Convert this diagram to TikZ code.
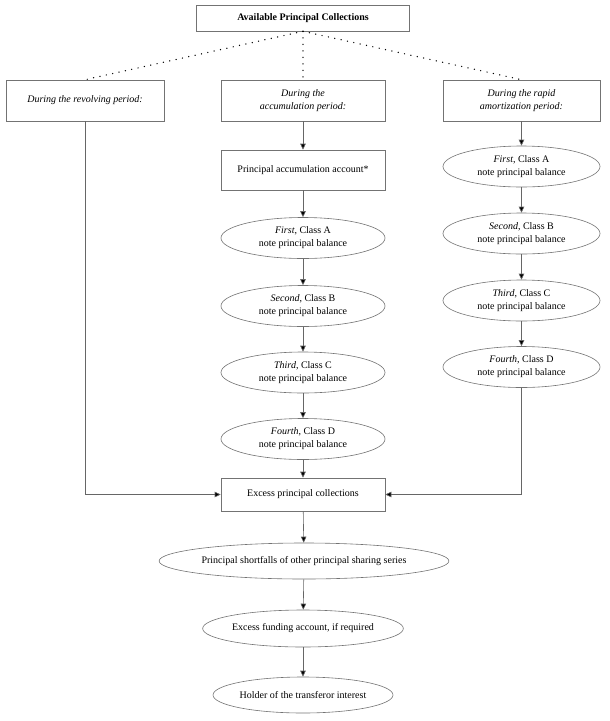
\documentclass[tikz,border=0pt]{standalone}
\usepackage{fontspec}
\setmainfont{Liberation Serif}
\usetikzlibrary{shapes.geometric,arrows.meta}
\begin{document}
\begin{tikzpicture}[x=1pt,y=-1pt,
  every node/.style={font=\fontsize{10}{13}\selectfont, align=center, inner sep=0pt},
  rbox/.style={draw=black!55, line width=0.6pt, rectangle, minimum width=#1, minimum height=41pt},
  rbox/.default=164pt,
  ell/.style={draw=black!55, line width=0.6pt, ellipse, minimum width=#1, minimum height=41pt},
  ell/.default=164pt,
  conn/.style={draw=black!60, line width=0.6pt, -{Triangle[length=6pt,width=5.5pt,fill=black]}},
  dots/.style={draw=black, line width=1.4pt, line cap=round, dash pattern=on 0pt off 6.5pt}
]
\useasboundingbox (0,0) rectangle (610,721);

\node[rbox=213pt, minimum height=26pt, font=\fontsize{10}{13}\selectfont\bfseries] (top) at (303,18) {Available Principal Collections};

\node[rbox=158pt] (lbox) at (85,100.5) {\itshape During the revolving period:};
\node[rbox] (mbox) at (303,100.5) {\itshape During the\\\itshape accumulation period:};
\node[rbox=157pt] (rbox) at (521.5,100.5) {\itshape During the rapid\\\itshape amortization period:};

\node[rbox, minimum height=40pt] (paa) at (303,170) {Principal accumulation account*};

\node[ell] (m1) at (303,238) {\itshape First\upshape, Class A\\note principal balance};
\node[ell] (m2) at (303,306) {\itshape Second\upshape, Class B\\note principal balance};
\node[ell] (m3) at (303,372.5) {\itshape Third\upshape, Class C\\note principal balance};
\node[ell] (m4) at (303,439) {\itshape Fourth\upshape, Class D\\note principal balance};

\node[ell=157pt] (r1) at (521.5,166.5) {\itshape First\upshape, Class A\\note principal balance};
\node[ell=157pt] (r2) at (521.5,233.5) {\itshape Second\upshape, Class B\\note principal balance};
\node[ell=157pt] (r3) at (521.5,300.5) {\itshape Third\upshape, Class C\\note principal balance};
\node[ell=157pt] (r4) at (521.5,367) {\itshape Fourth\upshape, Class D\\note principal balance};

\node[rbox, minimum height=33pt] (epc) at (303,494.5) {Excess principal collections};

\node[ell=268pt, minimum height=36pt] (psf) at (304,561) {Principal shortfalls of other principal sharing series};
\node[ell=180pt, minimum height=37pt] (efa) at (303,628.5) {Excess funding account, if required};
\node[ell=180pt, minimum height=36pt] (hti) at (303,695) {Holder of the transferor interest};

\coordinate (lc) at (lbox.south |- epc.west);
\coordinate (rc) at (r4.south |- epc.east);

\draw[dots] (top.south) -- (lbox.north);
\draw[dots] (top.south) -- (mbox.north);
\draw[dots] (top.south) -- (rbox.north);

\draw[conn] (mbox) -- (paa);
\draw[conn] (paa) -- (m1);
\draw[conn] (m1) -- (m2);
\draw[conn] (m2) -- (m3);
\draw[conn] (m3) -- (m4);
\draw[conn] (m4) -- (epc);

\draw[conn] (rbox) -- (r1);
\draw[conn] (r1) -- (r2);
\draw[conn] (r2) -- (r3);
\draw[conn] (r3) -- (r4);

\draw[conn] (lbox.south) -- (lc) -- (epc.west);
\draw[conn] (r4.south) -- (rc) -- (epc.east);

\draw[conn] (epc) -- (psf);
\draw[conn] (psf) -- (efa);
\draw[conn] (efa) -- (hti);
\end{tikzpicture}
\end{document}
